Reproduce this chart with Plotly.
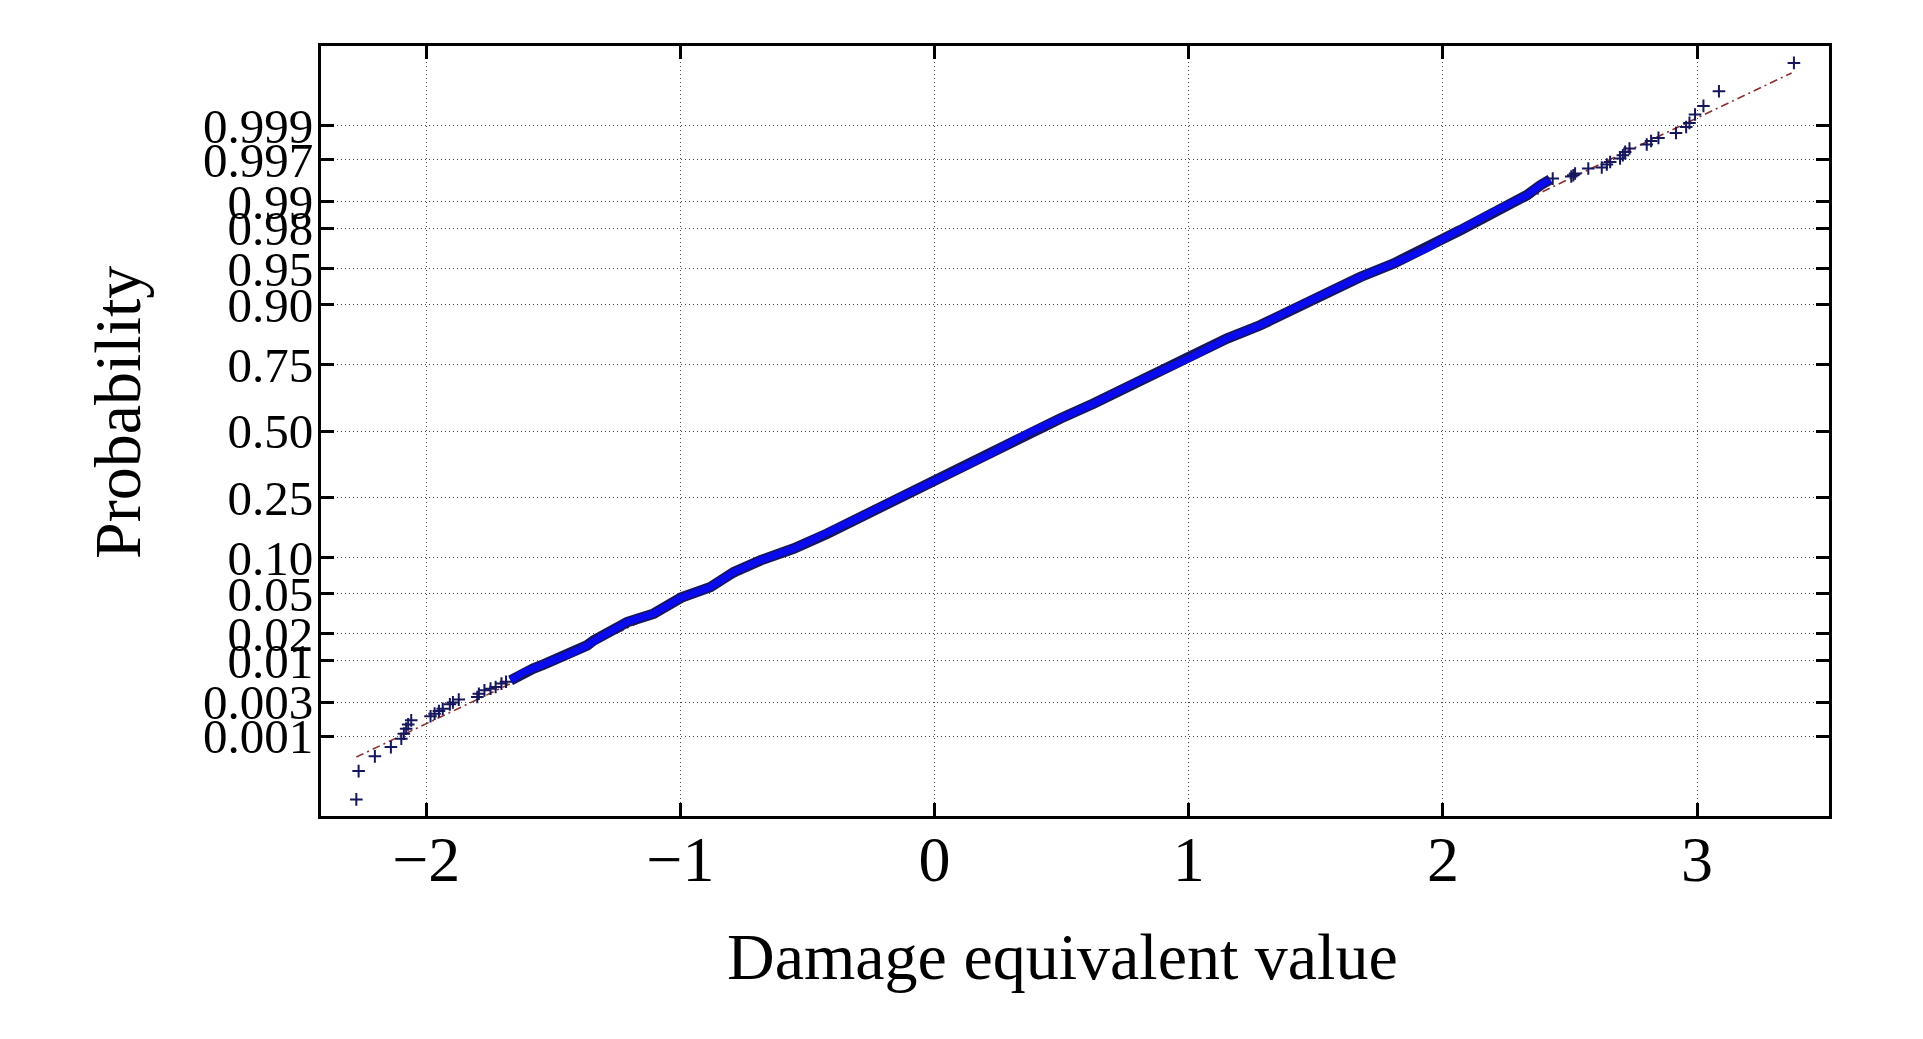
import plotly.graph_objects as go
from statistics import NormalDist

# ---- data (x = damage equivalent value, q = theoretical normal quantile) ----
lower_tail_x = [-2.275, -2.266, -2.202, -2.139, -2.098, -2.088, -2.079, -2.071, -2.059,
                -1.983, -1.967, -1.950, -1.935, -1.907, -1.895, -1.872, -1.799, -1.793,
                -1.771, -1.747, -1.727, -1.704, -1.686]
lower_tail_q = [-3.732, -3.445, -3.296, -3.202, -3.117, -3.066, -3.015, -2.972, -2.931,
                -2.890, -2.863, -2.837, -2.813, -2.769, -2.749, -2.721, -2.695, -2.661,
                -2.627, -2.610, -2.594, -2.559, -2.540]

band_x = [-1.668, -1.616, -1.579, -1.537, -1.485, -1.419, -1.367, -1.341, -1.314, -1.209,
          -1.105, -0.997, -0.882, -0.790, -0.685, -0.554, -0.423, -0.292, -0.161, -0.004,
          0.101, 0.232, 0.364, 0.495, 0.626, 0.783, 0.888, 0.999, 1.150, 1.281,
          1.412, 1.544, 1.675, 1.806, 1.937, 2.002, 2.068, 2.134, 2.199, 2.265,
          2.330, 2.383, 2.422]
band_q = [-2.526, -2.442, -2.407, -2.364, -2.306, -2.239, -2.171, -2.121, -2.087, -1.935,
          -1.850, -1.688, -1.581, -1.429, -1.310, -1.191, -1.040, -0.871, -0.702, -0.517,
          -0.381, -0.213, -0.026, 0.126, 0.278, 0.480, 0.598, 0.734, 0.936, 1.071,
          1.240, 1.408, 1.560, 1.696, 1.848, 1.949, 2.033, 2.118, 2.219, 2.304,
          2.388, 2.489, 2.547]

upper_tail_x = [2.432, 2.505, 2.513, 2.520, 2.572, 2.625, 2.645, 2.658, 2.697, 2.708,
                2.717, 2.734, 2.802, 2.819, 2.848, 2.917, 2.957, 2.970, 2.992, 3.025,
                3.086, 3.381]
upper_tail_q = [2.557, 2.578, 2.591, 2.608, 2.659, 2.669, 2.699, 2.725, 2.760, 2.793,
                2.827, 2.861, 2.902, 2.938, 2.969, 3.019, 3.080, 3.121, 3.206, 3.293,
                3.442, 3.729]

fit_x = [-2.275, 3.372]
fit_q = [-3.303, 3.627]

prob_labels = ["0.001", "0.003", "0.01", "0.02", "0.05", "0.10", "0.25", "0.50",
               "0.75", "0.90", "0.95", "0.98", "0.99", "0.997", "0.999"]
x_tick_vals = [-2, -1, 0, 1, 2, 3]
x_tick_text = ["\u22122", "\u22121", "0", "1", "2", "3"]

# ---- figure ----
nd = NormalDist()
prob_tickvals = [nd.inv_cdf(float(p)) for p in prob_labels]

NAVY = "#16165c"
BLUE = "#0a0aee"
FONT = "Liberation Serif"

fig = go.Figure()

# fitted line (dash-dot)
fig.add_trace(go.Scatter(x=fit_x, y=fit_q, mode="lines",
                         line=dict(color="#8a3030", width=1.6, dash="8px,4px,2px,4px"),
                         hoverinfo="skip", showlegend=False))

# dense middle part: many overlapping '+' markers -> thick band
fig.add_trace(go.Scatter(x=band_x, y=band_q, mode="lines",
                         line=dict(color=NAVY, width=10.5), showlegend=False))
fig.add_trace(go.Scatter(x=band_x, y=band_q, mode="lines",
                         line=dict(color=BLUE, width=7), showlegend=False))

# sparse tails: individual '+' markers
for xs, qs in ((lower_tail_x, lower_tail_q), (upper_tail_x, upper_tail_q)):
    fig.add_trace(go.Scatter(x=xs, y=qs, mode="markers",
                             marker=dict(symbol="cross-thin", size=9,
                                         line=dict(color=NAVY, width=2)),
                             showlegend=False))

axis_common = dict(
    showline=True, linecolor="black", linewidth=3, mirror="allticks",
    ticks="inside", ticklen=13, tickwidth=2.5, tickcolor="black",
    showgrid=True, gridcolor="#444444", gridwidth=1, griddash="1px,3px",
    zeroline=False,
)

fig.update_xaxes(range=[-2.414, 3.519], tickvals=x_tick_vals, ticktext=x_tick_text,
                 tickfont=dict(family=FONT, size=64, color="black"),
                 ticklabelstandoff=-15, **axis_common)
fig.update_yaxes(range=[-3.9, 3.9], tickvals=prob_tickvals, ticktext=prob_labels,
                 tickfont=dict(family=FONT, size=49, color="black"),
                 ticklabelstandoff=-5, **axis_common)

fig.add_annotation(text="Damage equivalent value", xref="paper", yref="paper",
                   x=0.4914, y=-0.1826, xanchor="center", yanchor="middle",
                   showarrow=False, font=dict(family=FONT, size=66, color="black"))
fig.add_annotation(text="Probability", xref="paper", yref="paper",
                   x=-0.1346, y=0.5234, xanchor="center", yanchor="middle",
                   textangle=-90, showarrow=False,
                   font=dict(family=FONT, size=66, color="black"))

fig.update_layout(width=1923, height=1039,
                  margin=dict(l=321, r=94, t=46, b=223),
                  paper_bgcolor="white", plot_bgcolor="white")

fig.write_html("out.html", config={"displayModeBar": False},
               post_script="document.body.style.margin='0';")
